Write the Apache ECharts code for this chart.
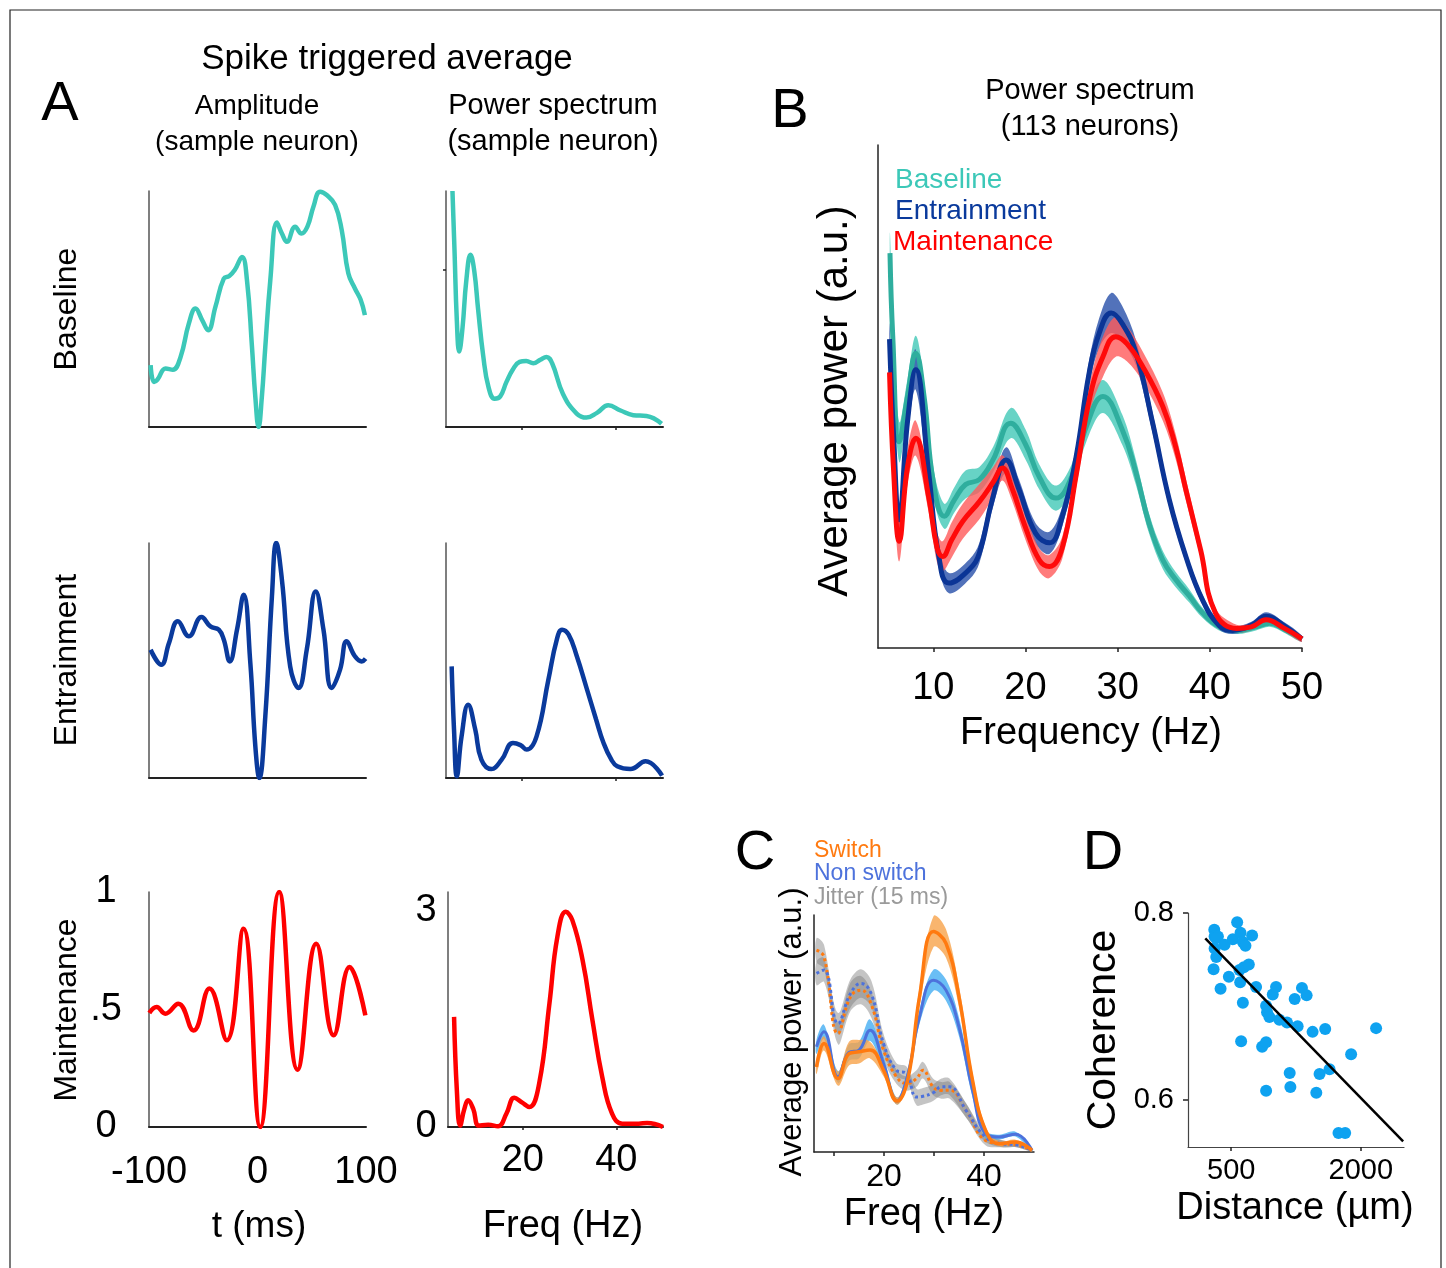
<!DOCTYPE html>
<html>
<head>
<meta charset="utf-8">
<title>Spike triggered average</title>
<script src="https://cdn.jsdelivr.net/npm/echarts@6/dist/echarts.min.js"></script>
<style>
  html, body { margin: 0; padding: 0; background: #fff; }
  #chart { width: 1446px; height: 1268px; }
</style>
</head>
<body>
<div id="chart"></div>
<script>
// Panel A - spike triggered average, amplitude (t in ms, normalised amplitude)
const ampBaseT = [-98.5, -95.4, -92.3, -84.7, -78, -70.9, -63.3, -57.1, -51, -45.5, -38.8, -31.1, -26, -21, -14.3, -9.7, -5.1, -2, 1, 4, 7.2, 11.8, 17.9, 22.5, 27.1, 34.7, 40.5, 46, 51.6, 57.7, 63.8, 71.5, 77.6, 83.7, 89.8, 95, 99]
const ampBaseV = [0.262, 0.191, 0.2, 0.248, 0.243, 0.297, 0.438, 0.502, 0.453, 0.41, 0.509, 0.629, 0.64, 0.665, 0.72, 0.622, 0.34, 0.127, 0, 0.127, 0.34, 0.622, 0.866, 0.82, 0.785, 0.849, 0.82, 0.849, 0.934, 0.997, 0.983, 0.941, 0.835, 0.651, 0.587, 0.54, 0.474]
const ampEntT = [-98.5, -88.7, -81.6, -73.4, -63.3, -51.6, -43.4, -35.7, -31.1, -25.6, -18.9, -12.7, -6.6, -2, 1.7, 7.2, 13.3, 17.3, 22.5, 30.1, 37.8, 45.4, 53.7, 60.8, 68.4, 76.1, 82.2, 89.8, 96, 99.6]
const ampEntV = [0.546, 0.482, 0.574, 0.667, 0.603, 0.685, 0.645, 0.631, 0.589, 0.496, 0.631, 0.78, 0.489, 0.135, 0, 0.262, 0.773, 1.0, 0.844, 0.475, 0.383, 0.546, 0.794, 0.631, 0.383, 0.461, 0.582, 0.518, 0.496, 0.508]
const ampMaintT = [-99.7, -93, -85, -73, -59, -44.3, -28.3, -12.9, 2.5, 20, 36.9, 54.2, 70.2, 84.9, 99.4]
const ampMaintV = [0.485, 0.511, 0.482, 0.525, 0.411, 0.589, 0.369, 0.844, 0, 1.0, 0.244, 0.78, 0.39, 0.681, 0.475]

// Panel A - spike triggered average, power spectrum (Hz)
const psBaseF = [5.37, 5.8, 6.3, 6.8, 7.5, 8.3, 9.2, 10.0, 10.8, 11.9, 13.0, 14.3, 15.5, 16.8, 18.2, 19.6, 21.0, 22.5, 24.0, 25.3, 26.5, 28.8, 31.7, 33.8, 36.0, 38.4, 41.0, 43.7, 46.5, 49.7]
const psBaseV = [1.0, 0.75, 0.45, 0.32, 0.42, 0.62, 0.73, 0.66, 0.5, 0.3, 0.17, 0.12, 0.13, 0.19, 0.245, 0.276, 0.28, 0.27, 0.285, 0.297, 0.27, 0.14, 0.057, 0.04, 0.06, 0.092, 0.07, 0.05, 0.047, 0.014]
const psEntF = [5.2, 5.7, 6.3, 7.3, 8.7, 10.2, 11.5, 13.6, 15.8, 18.2, 19.8, 21.1, 23.2, 25.7, 27.5, 28.6, 30.0, 31.7, 33.9, 35.8, 37.4, 39.0, 40.3, 43.1, 46.3, 49.8]
const psEntV = [0.475, 0.206, 0.007, 0.177, 0.312, 0.206, 0.078, 0.038, 0.078, 0.149, 0.14, 0.121, 0.177, 0.418, 0.59, 0.631, 0.61, 0.52, 0.376, 0.25, 0.149, 0.08, 0.05, 0.038, 0.071, 0.01]
const psMaintF = [5.3, 5.9, 6.6, 7.5, 8.3, 9.4, 10.6, 12.6, 14.7, 16.5, 18.2, 19.8, 21.4, 23.5, 25.7, 27.4, 29.2, 30.6, 32.8, 34.9, 37.0, 39.1, 41.3, 44.8, 46.6, 50.0]
const psMaintV = [1.523, 0.5, 0.02, 0.25, 0.37, 0.25, 0.02, 0.03, 0.01, 0.185, 0.406, 0.34, 0.277, 0.6, 1.707, 2.63, 2.977, 2.861, 2.307, 1.477, 0.692, 0.185, 0.046, 0.046, 0.055, 0.0]

// Panel B - average power spectrum, mean and error band (a.u.)
const bBaseF = [5.3, 5.6, 6.3, 7.2, 8.1, 9.0, 10.0, 11.2, 12.3, 13.5, 15.0, 16.5, 18.4, 20.0, 21.5, 23.3, 25.0, 26.6, 28.4, 30.5, 32.0, 33.4, 34.9, 36.3, 37.8, 39.2, 41.0, 43.0, 45.0, 46.5, 48.0, 50.0]
const bBaseY = [78.5, 62, 41, 50, 58.6, 50, 33, 26.2, 29.5, 32.5, 33.5, 37.5, 44.7, 40.5, 34, 29.8, 34, 44, 50, 43.4, 34.8, 24.8, 17.5, 13.6, 10.3, 7, 4.3, 3.5, 4.2, 4.9, 3.8, 1.8]
const bBaseErr = [4, 4, 4, 3.5, 3.5, 3, 3, 2.5, 2.5, 2.8, 2.5, 2.5, 3, 3, 2.5, 2.5, 2.5, 3, 3.3, 3, 2.5, 2, 1.8, 1.5, 1.3, 1, 0.8, 0.7, 0.7, 0.7, 0.7, 0.6]
const bEntF = [5.25, 5.7, 6.3, 7.2, 8.1, 9.5, 10.6, 11.7, 13.9, 15.0, 16.4, 17.9, 19.3, 21.1, 22.6, 24.0, 25.5, 26.9, 28.0, 29.3, 30.5, 32.0, 33.8, 35.6, 37.4, 39.2, 41.0, 42.5, 44.5, 46.1, 48.0, 50.0]
const bEntY = [61.4, 42, 25.5, 45, 55.3, 34.8, 18.2, 12.9, 15.6, 18.9, 29.5, 37.4, 31.5, 22.8, 20.9, 26.2, 38.1, 54.6, 62.6, 66.6, 64.5, 58.6, 44.7, 29.5, 18.2, 9.6, 4.5, 3.5, 4.5, 6.3, 4.5, 1.8]
const bEntErr = [3, 3, 3, 3, 4, 3, 2, 2, 2, 2, 2, 2.5, 2, 2, 2.2, 2, 2, 2.5, 3, 4, 3.5, 2.5, 2, 1.5, 1.2, 1, 0.8, 0.7, 0.7, 0.8, 0.7, 0.6]
const bMaintF = [5.25, 5.7, 6.3, 7.2, 8.1, 9.5, 10.4, 11.0, 12.0, 13.2, 15.0, 16.5, 17.5, 18.5, 20.0, 21.5, 22.6, 24.0, 25.5, 27.0, 28.4, 29.8, 31.0, 32.7, 34.9, 36.3, 37.4, 39.0, 40.6, 42.9, 44.5, 46.1, 48.0, 50.0]
const bMaintY = [54.8, 35, 21.2, 36, 41.7, 30, 20, 18.2, 21.5, 25.2, 29.1, 33, 35.8, 32, 24, 17.5, 16.2, 20, 34.4, 50, 57.9, 61.9, 60.5, 56, 48, 40, 31.5, 19.5, 7, 3.9, 4.2, 5.6, 4, 1.8]
const bMaintErr = [3, 3.5, 4, 3.5, 3.5, 3, 3, 3, 3.5, 3.5, 3.5, 3, 2.5, 2.5, 2.5, 2.3, 2.3, 2.2, 2.5, 3, 4, 4, 3.5, 3, 2.8, 2.5, 2.2, 1.6, 1, 0.7, 0.7, 0.7, 0.7, 0.6]

// Panel C - switch / non switch and jittered controls
const cFreq = [6.5, 8.0, 10.8, 13.0, 15.0, 17.2, 19.9, 22.6, 24.8, 27.1, 29.9, 32.4, 35.0, 37.7, 40.3, 43.0, 46.3, 49.6]
const cSwitch = [35.9, 45.8, 31.0, 41.5, 42.3, 43, 34.5, 21.5, 31, 65.5, 93, 88, 65.5, 30.3, 9.2, 3.5, 4.2, 0.7]
const cSwitchErr = [3, 3, 3, 5, 5, 3.5, 2.5, 1.5, 2, 4, 6.5, 6, 4.5, 3, 1.5, 1, 1, 0.5]
const cNonSwitch = [44.4, 50.7, 31.7, 42, 43, 51.4, 37.3, 21.5, 33, 57, 72.5, 68.3, 52.8, 26.1, 7.7, 6.3, 7.5, 0.7]
const cNonSwitchErr = [3, 3, 2.5, 3.5, 3.5, 4.5, 3, 1.5, 2, 3, 4.5, 4.5, 4, 3, 1.5, 1, 1, 0.5]
const jFreq = [6.5, 8.0, 10.8, 13.3, 15.4, 17.5, 19.9, 22.5, 24.5, 26.5, 27.8, 29.8, 31.5, 33.1, 36.4, 40.3, 43.6, 46.5, 49.6]
const jSwitch = [85.2, 82.4, 50, 65.5, 68.3, 62, 43, 31.7, 28.9, 31, 34.5, 27.5, 26, 26.1, 17.6, 4.9, 3.5, 3, 0.7]
const jNonSwitch = [75.4, 76.8, 54.2, 66.9, 71.1, 66.5, 45.8, 34.5, 33.1, 23.2, 23.5, 25, 27.5, 27.5, 17.6, 6.3, 3.5, 3, 0.7]
const jErr = [5, 5, 4.5, 6, 6, 5.5, 4, 3, 3, 3.5, 3.5, 3.5, 3.5, 3.5, 3, 2, 1.5, 1, 0.5]

// Panel D - coherence vs distance
const distX = [304, 308, 346, 327, 308, 423, 327, 296, 519, 569, 608, 635, 665, 742, 473, 377, 596, 646, 704, 604, 788, 635, 615, 858, 904, 904, 915, 942, 981, 1019, 1058, 1146, 1235, 1269, 1319, 1373, 1442, 1588, 904, 1177, 1185, 1485, 1523, 1638, 1888, 2177, 1742, 1819]
const distCoh = [0.782, 0.775, 0.775, 0.773, 0.762, 0.766, 0.753, 0.740, 0.772, 0.790, 0.779, 0.769, 0.765, 0.776, 0.732, 0.719, 0.739, 0.742, 0.745, 0.726, 0.721, 0.704, 0.663, 0.657, 0.662, 0.701, 0.694, 0.689, 0.713, 0.721, 0.686, 0.683, 0.708, 0.679, 0.720, 0.712, 0.673, 0.676, 0.610, 0.629, 0.614, 0.608, 0.628, 0.633, 0.649, 0.677, 0.565, 0.565]
const fitX = [200, 2490]
const fitY = [0.773, 0.556]

// tick labels
const ampTicks = [-100, 0, 100]
const ampYTicks = [0, 0.5, 1]
const psTicks = [20, 40]
const psBaseYTick = [0.668]
const psYTicks = [0, 3]
const bTicks = [10, 20, 30, 40, 50]
const cTicks = [10, 20, 30, 40]
const cLabels = [20, 40]
const dXTicks = [500, 2000]
const dYTicks = [0.6, 0.8]

const FONT = '"Liberation Sans", Arial, Helvetica, sans-serif'
const TEAL = '#3cc8b8'
const NAVY = '#0a3a9c'
const RED = '#ff0000'
const ORANGE = '#ff7a10'
const BLUE = '#4d72dc'

const pairs = (xs, ys) => xs.map((x, i) => [x, ys[i]])

function lineSeries(idx, xs, ys, color, width, extra) {
    return Object.assign({
        type: "line",
        xAxisIndex: idx,
        yAxisIndex: idx,
        data: pairs(xs, ys),
        smooth: 0.45,
        symbol: "none",
        silent: true,
        lineStyle: { color: color, width: width },
        z: 3,
    }, extra || {})
}

// shaded error band drawn as a polygon through the axis scales
function bandSeries(idx, xs, ys, err, color, opacity) {
    return {
        type: "custom",
        xAxisIndex: idx,
        yAxisIndex: idx,
        data: [[xs[0], ys[0]]],
        silent: true,
        clip: true,
        z: 2,
        renderItem: (params, api) => {
            const upper = xs.map((x, i) => api.coord([x, ys[i] + err[i]]))
            const lower = xs.map((x, i) => api.coord([x, ys[i] - err[i]])).reverse()
            return {
                type: "polygon",
                shape: { points: upper.concat(lower), smooth: 0.35 },
                style: { fill: color, opacity: opacity },
            }
        },
    }
}

function axis(idx, min, max, opts) {
    const base = {
        type: "value",
        gridIndex: idx,
        min: min,
        max: max,
        axisLine: { show: true, onZero: false, lineStyle: { color: "#222", width: 2 } },
        axisTick: { show: false },
        axisLabel: { show: false },
        splitLine: { show: false },
    }
    return Object.assign(base, opts || {})
}

function labels(values, size, margin, extra) {
    return Object.assign({
        show: true,
        customValues: values,
        fontSize: size,
        fontFamily: FONT,
        color: "#000",
        margin: margin,
        formatter: v => String(v),
    }, extra || {})
}

function ticks(values, len) {
    return { show: true, customValues: values, length: len, lineStyle: { color: "#222", width: 1.5 } }
}

function text(str, x, y, size, color, align, rotation) {
    return {
        type: "text",
        x: x,
        y: y,
        rotation: rotation || 0,
        silent: true,
        style: {
            text: str,
            fontSize: size,
            fontFamily: FONT,
            fill: color || "#000",
            align: align || "center",
            verticalAlign: "middle",
        },
    }
}

const grids = [
    { left: 149, top: 191, width: 217, height: 236 },
    { left: 446, top: 191, width: 217, height: 236 },
    { left: 149, top: 543, width: 217, height: 235 },
    { left: 446, top: 543, width: 217, height: 235 },
    { left: 149, top: 892, width: 217, height: 235 },
    { left: 448, top: 892, width: 215, height: 235 },
    { left: 878, top: 145, width: 424, height: 503 },
    { left: 814, top: 915, width: 220, height: 237 },
    { left: 1188, top: 913, width: 216, height: 234 },
]

const grayLine = { show: true, onZero: false, lineStyle: { color: "#555", width: 1.5 } }
const yPad = [5, 0, 0, 0]

const xAxes = [
    axis(0, -100, 100),
    axis(1, 4, 50, { axisTick: ticks(psTicks, 3) }),
    axis(2, -100, 100),
    axis(3, 4, 50, { axisTick: ticks(psTicks, 3) }),
    axis(4, -100, 100, { axisLabel: labels(ampTicks, 38, 27) }),
    axis(5, 4, 50, { axisTick: ticks(psTicks, 3), axisLabel: labels(psTicks, 38, 15) }),
    axis(6, 4, 50, {
        axisLine: { show: true, onZero: false, lineStyle: { color: "#222", width: 1.5 } },
        axisTick: ticks(bTicks, 4),
        axisLabel: labels(bTicks, 38, 22),
    }),
    axis(7, 6, 50, {
        axisLine: { show: true, onZero: false, lineStyle: { color: "#222", width: 1.5 } },
        axisTick: ticks(cTicks, 4),
        axisLabel: labels(cLabels, 32, 9),
    }),
    axis(8, 0, 2500, {
        axisLine: { show: true, onZero: false, lineStyle: { color: "#444", width: 1.2 } },
        axisTick: ticks(dXTicks, 4),
        axisLabel: labels(dXTicks, 29, 9),
    }),
]

const yAxes = [
    axis(0, 0, 1, { axisLine: grayLine }),
    axis(1, 0, 1, { axisLine: grayLine, axisTick: ticks(psBaseYTick, 3) }),
    axis(2, 0, 1, { axisLine: grayLine }),
    axis(3, 0, 1, { axisLine: grayLine }),
    axis(4, 0, 1, {
        axisLine: grayLine,
        axisLabel: labels(ampYTicks, 38, 43, { align: "center", padding: yPad, formatter: v => (v === 0.5 ? ".5" : String(v)) }),
    }),
    axis(5, 0, 3.25, {
        axisLine: grayLine,
        axisLabel: labels(psYTicks, 38, 22, { align: "center", padding: yPad }),
    }),
    axis(6, 0, 100, { axisLine: { show: true, onZero: false, lineStyle: { color: "#222", width: 1.5 } } }),
    axis(7, 0, 100, { axisLine: { show: true, onZero: false, lineStyle: { color: "#222", width: 1.5 } } }),
    axis(8, 0.55, 0.8, {
        axisLine: { show: true, onZero: false, lineStyle: { color: "#444", width: 1.2 } },
        axisTick: ticks(dYTicks, 5),
        axisLabel: labels(dYTicks, 29, 14, { padding: yPad, formatter: v => v.toFixed(1) }),
    }),
]

const series = [
    // A
    lineSeries(0, ampBaseT, ampBaseV, TEAL, 4.5),
    lineSeries(1, psBaseF, psBaseV, TEAL, 4.5),
    lineSeries(2, ampEntT, ampEntV, NAVY, 4.5),
    lineSeries(3, psEntF, psEntV, NAVY, 4.5),
    lineSeries(4, ampMaintT, ampMaintV, RED, 4.5),
    lineSeries(5, psMaintF, psMaintV, RED, 4.5),
    // B
    bandSeries(6, bBaseF, bBaseY, bBaseErr, "#5fd1c2", 0.95),
    lineSeries(6, bBaseF, bBaseY, "#2fae9e", 5),
    bandSeries(6, bEntF, bEntY, bEntErr, "#3f63b3", 0.9),
    lineSeries(6, bEntF, bEntY, "#0b3596", 5),
    bandSeries(6, bMaintF, bMaintY, bMaintErr, "#ff5a5a", 0.8),
    lineSeries(6, bMaintF, bMaintY, "#ff0a0a", 5),
    // C
    bandSeries(7, jFreq, jSwitch, jErr, "#7d7d7d", 0.45),
    bandSeries(7, jFreq, jNonSwitch, jErr, "#7d7d7d", 0.45),
    lineSeries(7, jFreq, jSwitch, ORANGE, 3, { lineStyle: { color: ORANGE, width: 3, type: "dotted" } }),
    lineSeries(7, jFreq, jNonSwitch, BLUE, 3, { lineStyle: { color: BLUE, width: 3, type: "dotted" } }),
    bandSeries(7, cFreq, cNonSwitch, cNonSwitchErr, "#38a8f2", 0.75),
    lineSeries(7, cFreq, cNonSwitch, BLUE, 3),
    bandSeries(7, cFreq, cSwitch, cSwitchErr, "#f7a24a", 0.8),
    lineSeries(7, cFreq, cSwitch, ORANGE, 3.5),
    // D
    {
        type: "scatter",
        xAxisIndex: 8,
        yAxisIndex: 8,
        data: pairs(distX, distCoh),
        symbolSize: 12,
        itemStyle: { color: "#0ea2f0", opacity: 1 },
        silent: true,
        z: 3,
    },
    lineSeries(8, fitX, fitY, "#000", 2.5, { smooth: false, z: 4 }),
]

const graphic = [
    { type: "rect", silent: true, z: -10, shape: { x: 10, y: 10, width: 1431, height: 1300 }, style: { fill: "none", stroke: "#222", lineWidth: 1.2 } },
    // A
    text("Spike triggered average", 387, 59, 35),
    text("A", 60, 105, 56),
    text("Amplitude", 257, 106, 28),
    text("(sample neuron)", 257, 142, 28),
    text("Power spectrum", 553, 106, 29),
    text("(sample neuron)", 553, 142, 29),
    text("Baseline", 67, 309, 32, null, "center", Math.PI / 2),
    text("Entrainment", 67, 660, 32, null, "center", Math.PI / 2),
    text("Maintenance", 67, 1010, 32, null, "center", Math.PI / 2),
    text("t (ms)", 259, 1227, 37),
    text("Freq (Hz)", 563, 1227, 38),
    // B
    text("B", 790, 112, 56),
    text("Power spectrum", 1090, 91, 29),
    text("(113 neurons)", 1090, 127, 29),
    text("Baseline", 895, 180, 28, TEAL, "left"),
    text("Entrainment", 895, 211, 28, NAVY, "left"),
    text("Maintenance", 893, 242, 28, RED, "left"),
    text("Average power (a.u.)", 835, 401, 42, null, "center", Math.PI / 2),
    text("Frequency (Hz)", 1091, 734, 38),
    // C
    text("C", 755, 854, 56),
    text("Switch", 814, 851, 23, ORANGE, "left"),
    text("Non switch", 814, 874, 23, BLUE, "left"),
    text("Jitter (15 ms)", 814, 898, 23, "#9a9a9a", "left"),
    text("Average power (a.u.)", 792, 1032, 31, null, "center", Math.PI / 2),
    text("Freq (Hz)", 924, 1215, 38),
    // D
    text("D", 1103, 854, 56),
    text("Coherence", 1104, 1030, 41, null, "center", Math.PI / 2),
    text("Distance (\u00b5m)", 1295, 1209, 38),
]

document.addEventListener("DOMContentLoaded", () => {
    const el = document.getElementById("chart")
    const chart = echarts.init(el)
    chart.setOption({
        animation: false,
        backgroundColor: "#fff",
        grid: grids,
        xAxis: xAxes,
        yAxis: yAxes,
        series: series,
        graphic: graphic,
    })
    window.addEventListener("resize", () => chart.resize())
})
</script>
</body>
</html>
